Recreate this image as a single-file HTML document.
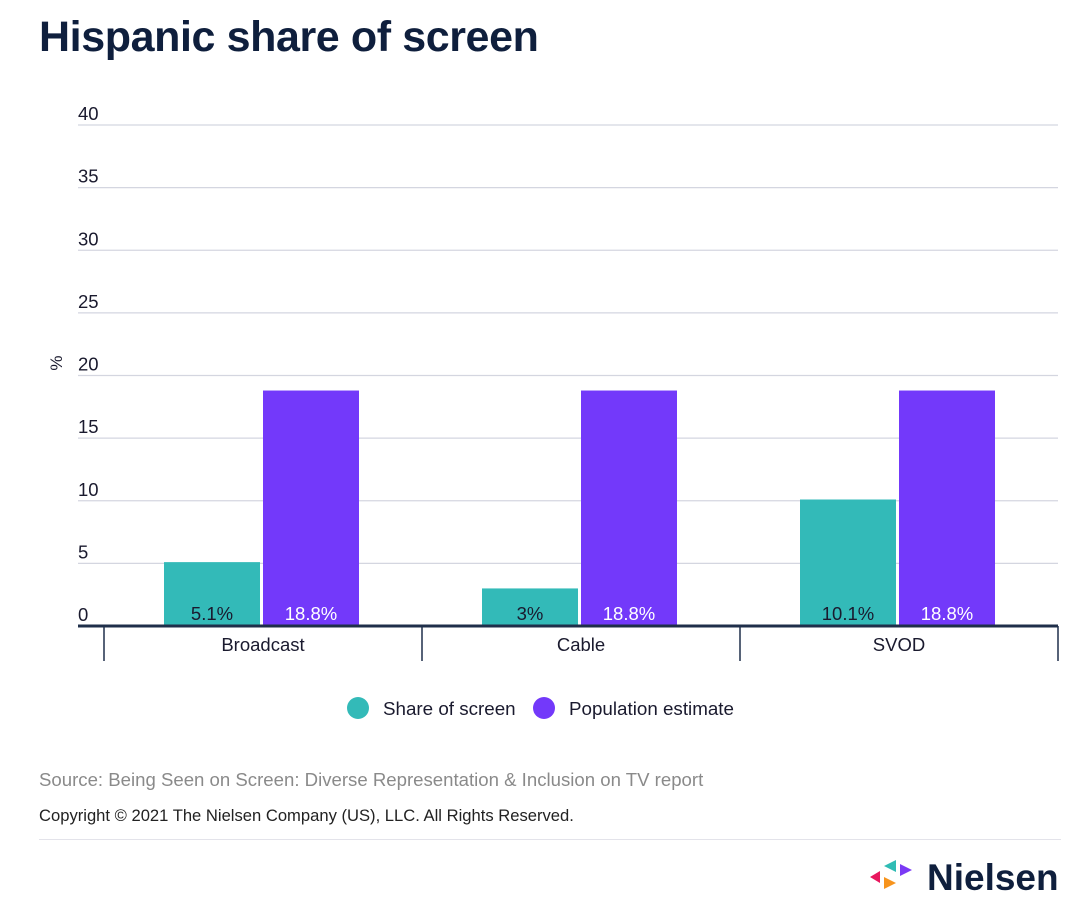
<!DOCTYPE html>
<html><head><meta charset="utf-8"><style>
body{margin:0;background:#fff;font-family:"Liberation Sans",sans-serif;}
#wrap{position:relative;width:1083px;height:906px;overflow:hidden;}
.t{position:absolute;white-space:nowrap;}
</style></head><body>
<div id="wrap">
<div class="t" style="left:39px;top:13px;font-size:43px;font-weight:bold;color:#0f1f3d;letter-spacing:-0.4px;">Hispanic share of screen</div>
<svg id="chart" width="1083" height="740" style="position:absolute;left:0;top:0;font-family:'Liberation Sans',sans-serif;"></svg>
<div class="t" style="left:39px;top:769px;font-size:18.6px;color:#8a8a8a;">Source: Being Seen on Screen: Diverse Representation &amp; Inclusion on TV report</div>
<div class="t" style="left:39px;top:806px;font-size:16.6px;color:#222;">Copyright © 2021 The Nielsen Company (US), LLC. All Rights Reserved.</div>
<div style="position:absolute;left:39px;top:839px;width:1022px;height:1px;background:#e3e3ea;"></div>
<svg width="200" height="44" style="position:absolute;left:868px;top:856px;">
<polygon points="2,21 12,15 12,27" fill="#e8175d"/>
<polygon points="16,10 28,4 28,16" fill="#2fbcb4"/>
<polygon points="16,21 28,27 16,33" fill="#f7941d"/>
<polygon points="32,8 44,14 32,20" fill="#7b3af5"/>
<text x="59" y="34" font-size="37" font-weight="bold" fill="#0f1f3d" font-family="Liberation Sans,sans-serif">Nielsen</text>
</svg>
</div>
<script>
const categories=["Broadcast","Cable","SVOD"];
const shareValues=[5.1,3,10.1];
const shareLabels=["5.1%","3%","10.1%"];
const popValues=[18.8,18.8,18.8];
const popLabels=["18.8%","18.8%","18.8%"];
const yTicks=[0,5,10,15,20,25,30,35,40];
const svg=document.getElementById('chart');
const NS='http://www.w3.org/2000/svg';
const X0=78,X1=1058,Y0=626,Y1=125,bandL=104,bandW=318;
const y=v=>Y0-(v/40)*(Y0-Y1);
const bx=i=>bandL+bandW*i+bandW/2;
function mk(t,a,p){const e=document.createElementNS(NS,t);for(const k in a)e.setAttribute(k,a[k]);(p||svg).appendChild(e);return e;}
yTicks.forEach(v=>{
 if(v>0){const l=mk('line',{x1:X0,x2:X1,y1:y(v),y2:y(v),stroke:'#d4d6e0','stroke-width':1.3});
 
 }
 const t=mk('text',{x:X0,y:y(v)-5,'font-size':18.5,fill:'#1a1a2e'});t.textContent=v;
 
 
});
const yt=mk('text',{x:0,y:0,'font-size':17,fill:'#1a1a2e',transform:'translate(62,363) rotate(-90)','text-anchor':'middle'});yt.textContent='%';


categories.forEach((c,i)=>{
 const cx=bx(i);
 const r1=mk('rect',{x:cx-99,y:y(shareValues[i]),width:96,height:Y0-y(shareValues[i]),fill:'#33bab8'});
 
 
 const r2=mk('rect',{x:cx,y:y(popValues[i]),width:96,height:Y0-y(popValues[i]),fill:'#7339fa'});
 
 
 const t1=mk('text',{x:cx-51,y:620,'font-size':18.5,fill:'#1a1a2e','text-anchor':'middle'});t1.textContent=shareLabels[i];
 
 
 const t2=mk('text',{x:cx+48,y:620,'font-size':18.5,fill:'#fff','text-anchor':'middle'});t2.textContent=popLabels[i];
 
 
 const cl=mk('text',{x:cx,y:651,'font-size':18.5,fill:'#1a1a2e','text-anchor':'middle'});cl.textContent=c;
 
 
});
for(let i=0;i<=categories.length;i++){const tk=mk('line',{x1:bandL+bandW*i,x2:bandL+bandW*i,y1:Y0,y2:661,stroke:'#1f2f4a','stroke-width':1.5});
 
 }
const ax=mk('line',{x1:X0,x2:X1,y1:Y0,y2:Y0,stroke:'#1f2f4a','stroke-width':3});


[['Share of screen','#33bab8',358],['Population estimate','#7339fa',544]].forEach(([n,col,x])=>{
 const g=mk('g',{});
 
 
 mk('circle',{cx:x,cy:708,r:11,fill:col},g);
 const t=mk('text',{x:x+25,y:715,'font-size':18.8,fill:'#1a1a2e'},g);t.textContent=n;
});
</script>
</body></html>
